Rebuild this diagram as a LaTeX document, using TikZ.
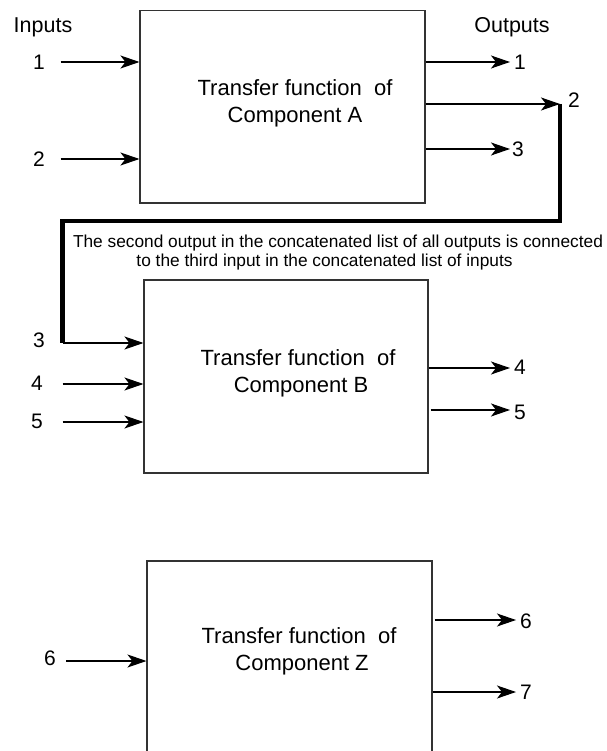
\documentclass[tikz,border=0pt]{standalone}
\usepackage{fontspec}
\setmainfont{Liberation Sans}
\usetikzlibrary{arrows.meta}
\begin{document}
\begin{tikzpicture}[x=1pt,y=-1pt,
  blk/.style={draw=black!80, line width=1.1pt, inner sep=0pt, fill=none},
  num/.style={font=\fontsize{21}{21}\selectfont, inner sep=0pt},
  head/.style={font=\fontsize{21.5}{21.5}\selectfont, inner sep=0pt},
  body/.style={font=\fontsize{22}{27}\selectfont, align=center, inner sep=0pt},
  note/.style={font=\fontsize{17.3}{19}\selectfont, inner sep=0pt},
  sig/.style={line width=1.1pt, -{Stealth[length=19pt,width=13pt,inset=5pt]}},
  link/.style={line width=4.5pt, line join=miter}
]
\clip (0,0) rectangle (606,751);
\fill[white] (0,0) rectangle (606,751);

% column headings
\node[head] (inhead) at (43,27) {Inputs};
\node[head] (outhead) at (512,27) {Outputs};

% ---------------- component A ----------------
\node[blk, minimum width=285pt, minimum height=192.3pt] (A) at (282.5,106.85) {};
\node[body] (Atxt) at (295,103.5) {Transfer function\ \ of\\ Component A};

\node[num] (ai1) at (39,62) {1};
\node[num] (ai2) at (39,159) {2};
\coordinate (ai1s) at (60.5,62);
\coordinate (ai2s) at (60.5,159);
\draw[sig] (ai1s) -- (A.west |- ai1s);
\draw[sig] (ai2s) -- (A.west |- ai2s);

\coordinate (ao1) at (510,62);
\coordinate (ao2) at (560,104);
\coordinate (ao3) at (510,149);
\draw[sig] (A.east |- ao1) -- (ao1);
\draw[sig] (A.east |- ao2) -- (ao2);
\draw[sig] (A.east |- ao3) -- (ao3);
\node[num, anchor=west] (lo1) at (514,62) {1};
\node[num] (lo2) at (574,100) {2};
\node[num, anchor=west] (lo3) at (512,149) {3};

% ---------------- feedback link ----------------
\coordinate (bi3s) at (62.5,343);
\draw[link] (ao2) -- (560,221) -- (62.5,221) -- (bi3s);

\node[note] (note1) at (338,243) {The second output in the concatenated list of all outputs is connected};
\node[note] (note2) at (324.5,262) {to the third input in the concatenated list of inputs};

% ---------------- component B ----------------
\node[blk, minimum width=284pt, minimum height=193pt] (B) at (286,376.5) {};
\node[body] (Btxt) at (298,373.5) {Transfer function\ \ of\\ \ Component B};

\node[num] (bi3) at (39,340) {3};
\node[num] (bi4) at (37,383) {4};
\node[num] (bi5) at (37,421) {5};
\coordinate (bi4s) at (62.5,384);
\coordinate (bi5s) at (62.5,422);
\draw[sig] (bi3s) -- (B.west |- bi3s);
\draw[sig] (bi4s) -- (B.west |- bi4s);
\draw[sig] (bi5s) -- (B.west |- bi5s);

\coordinate (bo4) at (510,368);
\coordinate (bo5) at (510,410);
\draw[sig] (B.east |- bo4) -- (bo4);
\draw[sig] ([xshift=2pt]B.east |- bo5) -- (bo5);
\node[num, anchor=west] (lb4) at (514,367) {4};
\node[num, anchor=west] (lb5) at (514,412) {5};

% ---------------- component Z ----------------
\node[blk, minimum width=285pt, minimum height=239pt] (Z) at (289.5,680.5) {};
\node[body] (Ztxt) at (299,651) {Transfer function\ \ of\\ \ Component Z};

\node[num] (zi6) at (50,658) {6};
\coordinate (zi6s) at (66,661);
\draw[sig] (zi6s) -- (Z.west |- zi6s);

\coordinate (zo6) at (516,620);
\coordinate (zo7) at (516,692);
\draw[sig] ([xshift=2pt]Z.east |- zo6) -- (zo6);
\draw[sig] (Z.east |- zo7) -- (zo7);
\node[num, anchor=west] (lz6) at (520,621) {6};
\node[num, anchor=west] (lz7) at (520,692) {7};
\end{tikzpicture}
\end{document}
